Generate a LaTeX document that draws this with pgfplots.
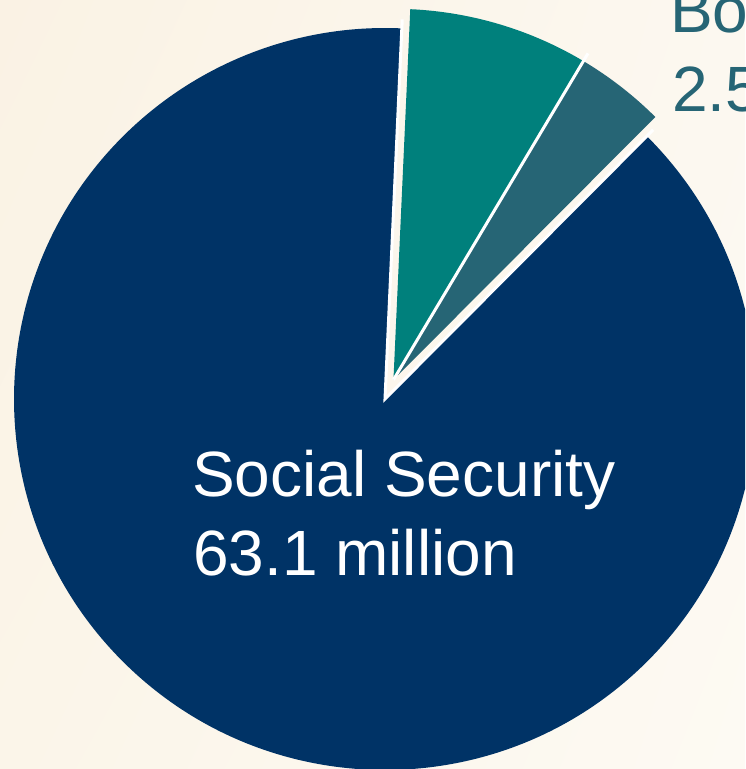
\documentclass[border=0pt]{standalone}
\usepackage{pgfplots}
\usepackage{pgfplotstable}
\pgfplotsset{compat=1.18}
\usetikzlibrary{shadings}
\usepackage{fontspec}
\setmainfont{Liberation Sans}
\definecolor{ssnavy}{RGB}{0,51,102}
\definecolor{ssiteal}{RGB}{0,128,124}
\definecolor{bothslate}{RGB}{38,101,117}
\definecolor{bgUL}{RGB}{250,242,228}
\definecolor{bgUR}{RGB}{252,248,240}
\definecolor{bgLL}{RGB}{251,245,233}
\definecolor{bgLR}{RGB}{253,250,243}

\pgfplotstableread{
group value
SocialSecurity 63.1
SSIonly 5.6
Both 2.8
}\piedata

\begin{document}
\begin{tikzpicture}
\pgfplotstablegetelem{0}{value}\of\piedata \pgfmathsetmacro\vA{\pgfplotsretval}
\pgfplotstablegetelem{1}{value}\of\piedata \pgfmathsetmacro\vB{\pgfplotsretval}
\pgfplotstablegetelem{2}{value}\of\piedata \pgfmathsetmacro\vC{\pgfplotsretval}
\pgfmathsetmacro\tot{\vA+\vB+\vC}
\pgfmathsetmacro\aS{87.4}
\pgfmathsetmacro\aB{\aS-360*\vB/\tot}
\pgfmathsetmacro\aC{\aB-360*\vC/\tot}
\pgfmathsetmacro\aE{\aS-360}
\pgfmathsetmacro\amid{(\aS+\aC)/2}
\useasboundingbox (0,0) rectangle (745pt,769pt);
\clip (0,0) rectangle (745pt,769pt);
\shade[upper left=bgUL, upper right=bgUR, lower left=bgLL, lower right=bgLR] (0,0) rectangle (745pt,769pt);
\begin{axis}[width=745pt, height=769pt, scale only axis, hide axis,
  xmin=0, xmax=745, ymin=0, ymax=769, clip=false]
  \fill[ssnavy]
    (axis cs:385,370) -- ++(\aC:371pt) arc[start angle=\aC, end angle=\aE, radius=371pt] -- cycle;
  \draw[white, line width=3pt, line join=miter]
    (axis cs:385,370) ++(\aC:380pt) -- (axis cs:385,370) -- ++(\aE:380pt);
  \fill[ssiteal, shift={(\amid:21pt)}]
    (axis cs:385,370) -- ++(\aS:371pt) arc[start angle=\aS, end angle=\aB, radius=371pt] -- cycle;
  \fill[bothslate, shift={(\amid:21pt)}]
    (axis cs:385,370) -- ++(\aB:371pt) arc[start angle=\aB, end angle=\aC, radius=371pt] -- cycle;
  \draw[white, line width=3pt, shift={(\amid:21pt)}]
    (axis cs:385,370) -- ++(\aB:380pt);
  \node[anchor=base west, inner sep=0pt, text=white, font=\fontsize{64}{79}\selectfont] at (axis cs:192,272) {Social Security};
  \node[anchor=base west, inner sep=0pt, text=white, font=\fontsize{64}{79}\selectfont] at (axis cs:193,193) {63.1 million};
  \node[anchor=base west, inner sep=0pt, text=bothslate, font=\fontsize{64}{79}\selectfont] at (axis cs:670,736) {Both};
  \node[anchor=base west, inner sep=0pt, text=bothslate, font=\fontsize{64}{79}\selectfont] at (axis cs:672,657) {2.5 million};
\end{axis}
\end{tikzpicture}
\end{document}
